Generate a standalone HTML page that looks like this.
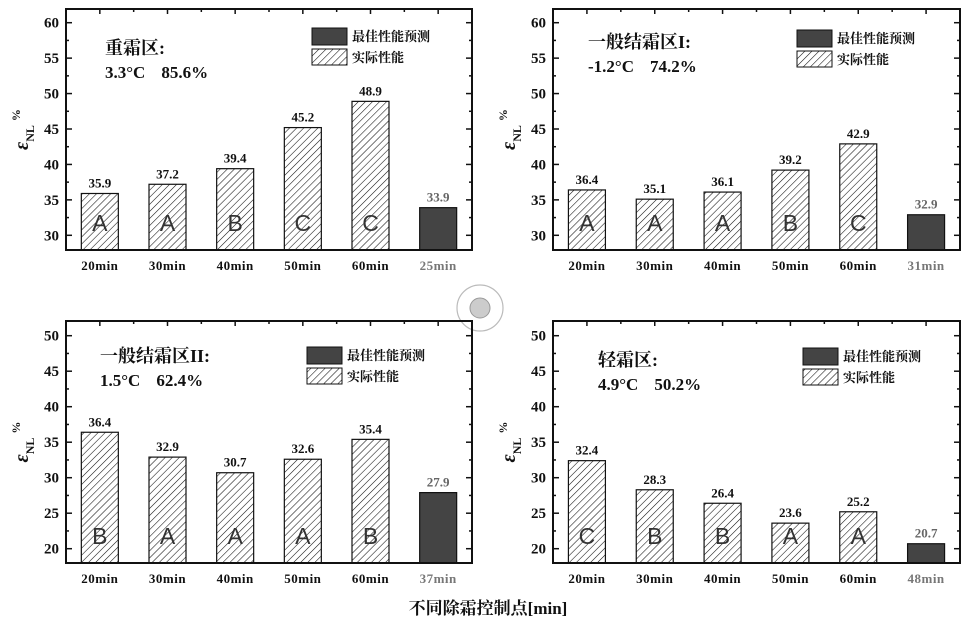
<!DOCTYPE html>
<html><head><meta charset="utf-8"><style>
html,body{margin:0;padding:0;background:#fff;}
svg{display:block;font-family:"Liberation Serif","Noto Serif CJK SC",serif;}
</style></head><body>
<svg id="chart" width="976" height="627" viewBox="0 0 976 627" xmlns="http://www.w3.org/2000/svg">
<defs>
<pattern id="hatch" patternUnits="userSpaceOnUse" width="5" height="5" patternTransform="rotate(45)">
<rect width="5" height="5" fill="#fff"/>
<line x1="0" y1="0" x2="0" y2="5" stroke="#111" stroke-width="1.1"/>
</pattern>
</defs>
<text x="488" y="614" text-anchor="middle" font-size="17" font-weight="bold" fill="#111">不同除霜控制点[min]</text>
<circle cx="480" cy="308" r="23" fill="none" stroke="#bbb" stroke-width="1.2"/>
<circle cx="480" cy="308" r="10" fill="#ccc" stroke="#999" stroke-width="1"/>
</svg>
<script>
const categories1 = ["20min","30min","40min","50min","60min","25min"];
const values1 = [35.9,37.2,39.4,45.2,48.9,33.9];
const grades1 = ["A","A","B","C","C",""];
const categories2 = ["20min","30min","40min","50min","60min","31min"];
const values2 = [36.4,35.1,36.1,39.2,42.9,32.9];
const grades2 = ["A","A","A","B","C",""];
const categories3 = ["20min","30min","40min","50min","60min","37min"];
const values3 = [36.4,32.9,30.7,32.6,35.4,27.9];
const grades3 = ["B","A","A","A","B",""];
const categories4 = ["20min","30min","40min","50min","60min","48min"];
const values4 = [32.4,28.3,26.4,23.6,25.2,20.7];
const grades4 = ["C","B","B","A","A",""];
const yTicksTop = [30,35,40,45,50,55,60];
const yTicksBottom = [20,25,30,35,40,45,50];
const titles = ["重霜区:","一般结霜区I:","一般结霜区II:","轻霜区:"];
const temps = ["3.3\u00B0C","-1.2\u00B0C","1.5\u00B0C","4.9\u00B0C"];
const effs = ["85.6%","74.2%","62.4%","50.2%"];

const NS="http://www.w3.org/2000/svg";
const svg=document.getElementById('chart');
function mk(tag,attrs,parent){const e=document.createElementNS(NS,tag);for(const k in attrs)e.setAttribute(k,attrs[k]);(parent||svg).appendChild(e);return e;}

const panels=[
 {x0:66,x1:472,y0:9,y1:250,tA:60,pA:22.7,tB:30,pB:235.3,cats:categories1,vals:values1,grades:grades1,ticks:yTicksTop,tx:105,ty:54,lx:312,ly:28},
 {x0:553,x1:960,y0:9,y1:250,tA:60,pA:22.7,tB:30,pB:235.3,cats:categories2,vals:values2,grades:grades2,ticks:yTicksTop,tx:588,ty:48,lx:797,ly:30},
 {x0:66,x1:472,y0:321,y1:563,tA:50,pA:335.7,tB:20,pB:548.7,cats:categories3,vals:values3,grades:grades3,ticks:yTicksBottom,tx:100,ty:362,lx:307,ly:347},
 {x0:553,x1:960,y0:321,y1:563,tA:50,pA:335.7,tB:20,pB:548.7,cats:categories4,vals:values4,grades:grades4,ticks:yTicksBottom,tx:598,ty:366,lx:803,ly:348}
];

panels.forEach((p,i)=>{
 const g=mk('g',{});
 
 
 const yS=v=>p.pB+(v-p.tB)*(p.pA-p.pB)/(p.tA-p.tB);
 const n=p.cats.length;
 const step=(p.x1-p.x0)/n;
 const xC=k=>p.x0+step*(k+0.5);
 const bw=37;
 p.vals.forEach((v,k)=>{
  const pred=k===n-1;
  const r=mk('rect',{x:xC(k)-bw/2,y:yS(v),width:bw,height:p.y1-yS(v),fill:pred?'#444':'url(#hatch)',stroke:'#111','stroke-width':1.2},g);
  
  
  const t=mk('text',{x:xC(k),y:yS(v)-6,'text-anchor':'middle','font-size':13,'font-weight':'bold',fill:pred?'#666':'#111'},g);
  t.textContent=v.toFixed(1);
  
  
  if(p.grades[k]){
   const gt=mk('text',{x:xC(k),y:p.y1-19,'text-anchor':'middle','font-size':23,fill:'#333','font-family':'Liberation Sans, sans-serif'},g);
   gt.textContent=p.grades[k];
   
   
  }
  const xl=mk('text',{x:xC(k),y:p.y1+20,'text-anchor':'middle','font-size':13,'font-weight':'bold',fill:pred?'#777':'#111','letter-spacing':'0.5'},g);
  xl.textContent=p.cats[k];
  
  
 });
 const fr=mk('rect',{x:p.x0,y:p.y0,width:p.x1-p.x0,height:p.y1-p.y0,fill:'none',stroke:'#111','stroke-width':2},g);
 
 
 const lo=p.ticks[0],hi=p.ticks[p.ticks.length-1];
 for(let v=lo-2.5;v<=hi+2.5;v+=2.5){
  const y=yS(v); if(y<p.y0||y>p.y1) continue;
  const major=((v-lo)%5===0);
  const len=major?6:3;
  mk('line',{x1:p.x0,x2:p.x0+len,y1:y,y2:y,stroke:'#111','stroke-width':1.5},g);
  mk('line',{x1:p.x1,x2:p.x1-len,y1:y,y2:y,stroke:'#111','stroke-width':1.5},g);
 }
 p.ticks.forEach(v=>{
  const t=mk('text',{x:p.x0-7,y:yS(v)+5,'text-anchor':'end','font-size':15,'font-weight':'bold',fill:'#111'},g);
  t.textContent=v;
  
  
 });
 for(let k=0;k<=2*n;k++){
  const x=p.x0+step*k/2;
  mk('line',{x1:x,x2:x,y1:p.y0,y2:p.y0+(k%2?5:3),stroke:'#111','stroke-width':1.5},g);
 }
 const yt=mk('text',{transform:`translate(${p.x0-38},${(p.y0+p.y1)/2}) rotate(-90)`,'text-anchor':'middle','font-size':20,'font-weight':'bold',fill:'#111'},g);
 yt.innerHTML='<tspan font-style="italic">ε</tspan><tspan font-size="12" dy="6">NL</tspan><tspan font-size="12" dy="-14" dx="4">%</tspan>';
 
 
 const tt=mk('text',{x:p.tx,y:p.ty,'font-size':18,'font-weight':'bold',fill:'#111'},g);
 tt.textContent=titles[i];
 
 
 const st=mk('text',{x:p.tx,y:p.ty+24,'font-size':17,'font-weight':'bold',fill:'#111'},g);
 
 
 const s1=mk('tspan',{},st); s1.textContent=temps[i];
 const s2=mk('tspan',{dx:16},st); s2.textContent=effs[i];
 const l1=mk('rect',{x:p.lx,y:p.ly,width:35,height:17,fill:'#444',stroke:'#111','stroke-width':1},g);
 
 
 const l2=mk('rect',{x:p.lx,y:p.ly+21,width:35,height:16,fill:'url(#hatch)',stroke:'#111','stroke-width':1},g);
 
 
 const lt1=mk('text',{x:p.lx+40,y:p.ly+13,'font-size':13,'font-weight':'bold',fill:'#111'},g);
 lt1.textContent='最佳性能预测';
 
 
 const lt2=mk('text',{x:p.lx+40,y:p.ly+34,'font-size':13,'font-weight':'bold',fill:'#111'},g);
 lt2.textContent='实际性能';
 
 
});
</script>
</body></html>
